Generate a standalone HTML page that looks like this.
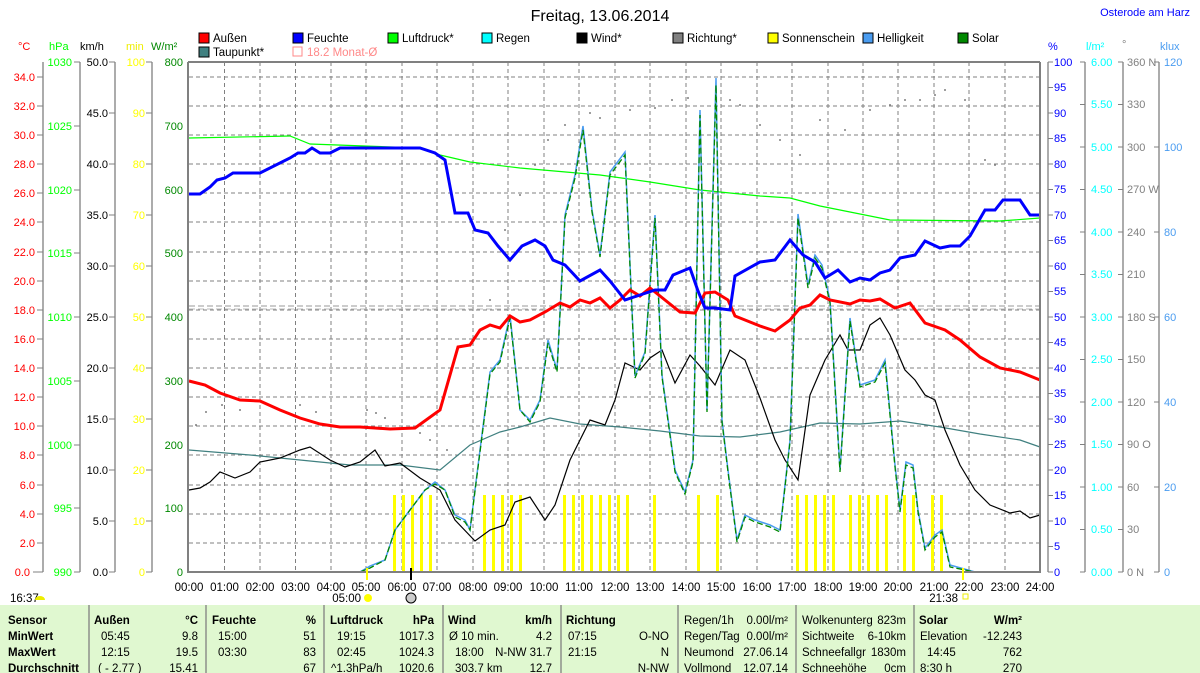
<!DOCTYPE html>
<html><head><meta charset="utf-8"><style>
body{margin:0;background:#fff;}
svg{display:block;font-family:"Liberation Sans",sans-serif;font-size:11px;}
</style></head><body>
<svg width="1200" height="673" viewBox="0 0 1200 673" xmlns="http://www.w3.org/2000/svg">
<rect width="1200" height="673" fill="#fff"/>
<text x="600" y="21" font-size="16" text-anchor="middle">Freitag, 13.06.2014</text>
<text x="1190" y="16" font-size="11" fill="#00f" text-anchor="end">Osterode am Harz</text>
<g font-size="11.5">
<rect x="199" y="33" width="10" height="10" fill="#f00" stroke="#000"/><text x="213" y="42">Außen</text>
<rect x="293" y="33" width="10" height="10" fill="#00f" stroke="#000"/><text x="307" y="42">Feuchte</text>
<rect x="388" y="33" width="10" height="10" fill="#0f0" stroke="#000"/><text x="402" y="42">Luftdruck*</text>
<rect x="482" y="33" width="10" height="10" fill="#0ff" stroke="#000"/><text x="496" y="42">Regen</text>
<rect x="577" y="33" width="10" height="10" fill="#000" stroke="#000"/><text x="591" y="42">Wind*</text>
<rect x="673" y="33" width="10" height="10" fill="#808080" stroke="#000"/><text x="687" y="42">Richtung*</text>
<rect x="768" y="33" width="10" height="10" fill="#ff0" stroke="#000"/><text x="782" y="42">Sonnenschein</text>
<rect x="863" y="33" width="10" height="10" fill="#4a9cf0" stroke="#000"/><text x="877" y="42">Helligkeit</text>
<rect x="958" y="33" width="10" height="10" fill="#080" stroke="#000"/><text x="972" y="42">Solar</text>
<rect x="199" y="47" width="10" height="10" fill="#408080" stroke="#000"/><text x="213" y="56">Taupunkt*</text>
<rect x="293" y="47" width="9" height="9" fill="none" stroke="#f88"/><text x="307" y="56" fill="#f88">18.2 Monat-Ø</text>
</g>
<g>
<text x="18" y="50" fill="#f00">°C</text>
<text x="49" y="50" fill="#0f0">hPa</text>
<text x="80" y="50">km/h</text>
<text x="126" y="50" fill="#ee0">min</text>
<text x="151" y="50" fill="#080">W/m²</text>
<text x="1048" y="50" fill="#00f">%</text>
<text x="1086" y="50" fill="#0ff">l/m²</text>
<text x="1122" y="48" fill="#808080">°</text>
<text x="1160" y="50" fill="#4a9cf0">klux</text>
</g>
<g stroke="#808080" stroke-dasharray="4,3" stroke-width="1">
<line x1="189" y1="77" x2="1040" y2="77"/><line x1="189" y1="106" x2="1040" y2="106"/><line x1="189" y1="135" x2="1040" y2="135"/><line x1="189" y1="164" x2="1040" y2="164"/><line x1="189" y1="193" x2="1040" y2="193"/><line x1="189" y1="222" x2="1040" y2="222"/><line x1="189" y1="252" x2="1040" y2="252"/><line x1="189" y1="281" x2="1040" y2="281"/><line x1="189" y1="310" x2="1040" y2="310"/><line x1="189" y1="339" x2="1040" y2="339"/><line x1="189" y1="368" x2="1040" y2="368"/><line x1="189" y1="397" x2="1040" y2="397"/><line x1="189" y1="426" x2="1040" y2="426"/><line x1="189" y1="455" x2="1040" y2="455"/><line x1="189" y1="485" x2="1040" y2="485"/><line x1="189" y1="514" x2="1040" y2="514"/><line x1="189" y1="543" x2="1040" y2="543"/>
<line x1="224.5" y1="62" x2="224.5" y2="572"/><line x1="260" y1="62" x2="260" y2="572"/><line x1="295.5" y1="62" x2="295.5" y2="572"/><line x1="331" y1="62" x2="331" y2="572"/><line x1="366" y1="62" x2="366" y2="572"/><line x1="402" y1="62" x2="402" y2="572"/><line x1="437" y1="62" x2="437" y2="572"/><line x1="473" y1="62" x2="473" y2="572"/><line x1="508" y1="62" x2="508" y2="572"/><line x1="544" y1="62" x2="544" y2="572"/><line x1="579" y1="62" x2="579" y2="572"/><line x1="615" y1="62" x2="615" y2="572"/><line x1="650" y1="62" x2="650" y2="572"/><line x1="686" y1="62" x2="686" y2="572"/><line x1="721" y1="62" x2="721" y2="572"/><line x1="757" y1="62" x2="757" y2="572"/><line x1="792" y1="62" x2="792" y2="572"/><line x1="828" y1="62" x2="828" y2="572"/><line x1="863" y1="62" x2="863" y2="572"/><line x1="898" y1="62" x2="898" y2="572"/><line x1="934" y1="62" x2="934" y2="572"/><line x1="969" y1="62" x2="969" y2="572"/><line x1="1005" y1="62" x2="1005" y2="572"/>
</g>
<line x1="189" y1="306" x2="1040" y2="306" stroke="#999" stroke-dasharray="6,3"/>
<line x1="189" y1="309" x2="1040" y2="309" stroke="#bbb" stroke-dasharray="6,3"/>
<g fill="#ff0">
<rect x="393" y="495" width="3" height="77"/><rect x="402" y="495" width="3" height="77"/><rect x="411" y="495" width="3" height="77"/><rect x="420" y="495" width="3" height="77"/><rect x="429" y="495" width="3" height="77"/>
<rect x="483" y="495" width="3" height="77"/><rect x="492" y="495" width="3" height="77"/><rect x="501" y="495" width="3" height="77"/><rect x="510" y="495" width="3" height="77"/><rect x="519" y="495" width="3" height="77"/>
<rect x="563" y="495" width="3" height="77"/><rect x="572" y="495" width="3" height="77"/><rect x="581" y="495" width="3" height="77"/><rect x="590" y="495" width="3" height="77"/><rect x="599" y="495" width="3" height="77"/><rect x="608" y="495" width="3" height="77"/><rect x="617" y="495" width="3" height="77"/><rect x="626" y="495" width="3" height="77"/>
<rect x="653" y="495" width="3" height="77"/><rect x="697" y="495" width="3" height="77"/><rect x="716" y="495" width="3" height="77"/>
<rect x="796" y="495" width="3" height="77"/><rect x="805" y="495" width="3" height="77"/><rect x="814" y="495" width="3" height="77"/><rect x="823" y="495" width="3" height="77"/><rect x="832" y="495" width="3" height="77"/>
<rect x="849" y="495" width="3" height="77"/><rect x="858" y="495" width="3" height="77"/><rect x="867" y="495" width="3" height="77"/><rect x="876" y="495" width="3" height="77"/><rect x="885" y="495" width="3" height="77"/>
<rect x="903" y="495" width="3" height="77"/><rect x="912" y="495" width="3" height="77"/><rect x="931" y="495" width="3" height="77"/><rect x="940" y="495" width="3" height="77"/>
</g>
<g fill="#808080">
<circle cx="196" cy="425" r="1"/><circle cx="206" cy="412" r="1"/><circle cx="222" cy="405" r="1"/><circle cx="240" cy="410" r="1"/><circle cx="300" cy="405" r="1"/><circle cx="316" cy="412" r="1"/><circle cx="367" cy="410" r="1"/><circle cx="376" cy="413" r="1"/><circle cx="385" cy="418" r="1"/><circle cx="420" cy="433" r="1"/><circle cx="430" cy="440" r="1"/><circle cx="447" cy="450" r="1"/>
<circle cx="490" cy="300" r="1"/><circle cx="505" cy="230" r="1"/><circle cx="520" cy="195" r="1"/><circle cx="535" cy="165" r="1"/><circle cx="548" cy="140" r="1"/><circle cx="565" cy="125" r="1"/><circle cx="590" cy="113" r="1"/><circle cx="600" cy="118" r="1"/><circle cx="630" cy="110" r="1"/><circle cx="655" cy="108" r="1"/><circle cx="672" cy="100" r="1"/><circle cx="688" cy="98" r="1"/><circle cx="730" cy="100" r="1"/><circle cx="740" cy="105" r="1"/><circle cx="760" cy="125" r="1"/><circle cx="780" cy="140" r="1"/><circle cx="800" cy="155" r="1"/><circle cx="820" cy="120" r="1"/><circle cx="845" cy="130" r="1"/><circle cx="870" cy="110" r="1"/><circle cx="890" cy="105" r="1"/><circle cx="905" cy="100" r="1"/><circle cx="920" cy="100" r="1"/><circle cx="935" cy="95" r="1"/><circle cx="945" cy="90" r="1"/><circle cx="965" cy="100" r="1"/><circle cx="985" cy="160" r="1"/><circle cx="995" cy="165" r="1"/>
</g>
<polyline fill="none" stroke="#408080" stroke-width="1.2" points="189,450 250,455 300,460 350,465 400,465 440,470 470,445 500,432 520,427 550,418 580,424 620,427 660,431 700,436 740,437 780,432 820,423 860,424 900,421 940,427 980,434 1020,440 1040,447"/>
<polyline fill="none" stroke="#0f0" stroke-width="1.2" points="189,138 290,136 310,144 420,148 440,155 470,162 520,168 600,175 650,182 700,190 760,196 790,198 820,206 850,212 890,220 1000,221 1040,218"/>
<polyline fill="none" stroke="#000" stroke-width="1.2" points="189,490 200,488 210,482 220,472 235,478 250,472 260,462 280,458 300,450 310,447 330,460 345,467 360,462 375,450 385,466 400,463 420,478 440,490 455,520 475,541 490,530 505,525 515,502 530,497 545,520 555,505 570,460 590,420 605,425 615,400 625,363 640,370 650,358 662,350 675,383 690,355 700,366 715,385 730,350 745,360 760,398 775,440 785,460 798,480 810,395 825,360 840,335 848,350 860,350 870,325 880,318 890,335 905,370 915,380 925,395 935,400 945,430 960,465 975,490 990,505 1010,513 1020,511 1030,518 1040,515"/>
<polyline fill="none" stroke="#4a9cf0" stroke-width="1.5" points="189,572 360,572 370,566 385,560 395,530 410,510 425,490 435,482 445,490 455,515 465,520 470,530 480,450 490,372 500,360 510,315 520,410 530,420 540,400 548,340 557,370 565,215 575,175 583,126 592,210 600,255 610,172 625,152 635,376 645,352 655,215 662,375 675,470 685,492 693,460 700,110 707,410 716,78 722,420 728,470 737,540 745,515 755,520 770,525 780,530 790,440 798,214 808,285 815,255 822,265 830,300 840,470 850,318 860,385 875,380 885,360 895,465 900,510 906,462 913,465 918,510 925,548 935,535 942,530 950,565 975,572"/>
<polyline fill="none" stroke="#080" stroke-width="1.3" stroke-dasharray="6,3" points="189,572 360,572 370,568 385,560 395,530 410,510 425,490 435,484 445,490 455,517 465,522 470,530 480,452 490,374 500,362 510,318 520,410 530,422 540,402 548,343 557,372 565,218 575,178 583,130 592,212 600,257 610,175 625,155 635,378 645,354 655,218 662,377 675,472 685,494 693,462 700,115 707,412 716,85 722,422 728,472 737,542 745,517 755,522 770,527 780,532 790,442 798,218 808,288 815,258 822,268 830,303 840,472 850,321 860,387 875,382 885,363 895,467 900,512 906,465 913,468 918,512 925,550 935,537 942,532 950,567 975,572"/>
<polyline fill="none" stroke="#f00" stroke-width="3" points="189,381 205,385 220,393 240,400 260,401 280,410 300,418 320,424 340,427 360,427 390,429 415,428 440,410 458,347 470,345 480,330 490,325 500,328 510,316 520,322 530,320 545,312 560,303 570,307 580,300 590,303 600,298 610,308 620,300 630,290 640,296 650,288 665,300 680,312 695,313 705,293 715,292 728,300 735,316 760,326 775,331 790,320 800,308 810,305 820,295 830,300 850,304 860,300 870,301 880,299 895,308 910,303 925,323 945,330 960,340 980,357 1000,368 1020,372 1040,380"/>
<polyline fill="none" stroke="#00f" stroke-width="3" points="189,194 200,194 210,187 217,180 225,178 233,173 260,173 290,158 298,153 305,153 312,148 320,153 330,153 340,148 420,148 435,153 445,160 455,213 468,213 475,230 488,233 498,246 510,260 522,246 535,240 545,246 553,260 565,265 580,281 600,270 610,281 625,300 640,295 655,290 665,290 673,275 690,268 698,291 705,308 715,308 730,310 735,276 760,262 775,260 790,240 803,255 815,262 825,278 838,270 850,282 860,278 870,280 880,273 890,270 900,258 915,255 925,241 940,248 950,246 960,246 970,236 985,210 995,210 1003,200 1020,200 1030,215 1040,215"/>
<line x1="188" y1="62" x2="1040" y2="62" stroke="#808080" stroke-width="2"/>
<line x1="188" y1="62" x2="188" y2="573" stroke="#808080" stroke-width="2"/>
<line x1="1040" y1="62" x2="1040" y2="573" stroke="#808080" stroke-width="2"/>
<line x1="188" y1="572" x2="1040" y2="572" stroke="#808080" stroke-width="2"/>
<g stroke="#808080" stroke-width="1.3">
<line x1="43" y1="62" x2="43" y2="572"/><line x1="80" y1="62" x2="80" y2="572"/><line x1="115" y1="62" x2="115" y2="572"/><line x1="152" y1="62" x2="152" y2="572"/>
<line x1="1048" y1="62" x2="1048" y2="572"/><line x1="1085" y1="62" x2="1085" y2="572"/><line x1="1123" y1="62" x2="1123" y2="572"/><line x1="1159" y1="62" x2="1159" y2="572"/>
</g>
<g text-anchor="end">
<g fill="#f00"><text x="35" y="81">34.0</text><text x="35" y="110">32.0</text><text x="35" y="139">30.0</text><text x="35" y="168">28.0</text><text x="35" y="197">26.0</text><text x="35" y="226">24.0</text><text x="35" y="256">22.0</text><text x="35" y="285">20.0</text><text x="35" y="314">18.0</text><text x="35" y="343">16.0</text><text x="35" y="372">14.0</text><text x="35" y="401">12.0</text><text x="35" y="430">10.0</text><text x="35" y="459">8.0</text><text x="35" y="489">6.0</text><text x="35" y="518">4.0</text><text x="35" y="547">2.0</text><text x="30" y="576">0.0</text></g>
<g fill="#0f0"><text x="72" y="66">1030</text><text x="72" y="130">1025</text><text x="72" y="194">1020</text><text x="72" y="257">1015</text><text x="72" y="321">1010</text><text x="72" y="385">1005</text><text x="72" y="449">1000</text><text x="72" y="512">995</text><text x="72" y="576">990</text></g>
<g fill="#000"><text x="108" y="66">50.0</text><text x="108" y="117">45.0</text><text x="108" y="168">40.0</text><text x="108" y="219">35.0</text><text x="108" y="270">30.0</text><text x="108" y="321">25.0</text><text x="108" y="372">20.0</text><text x="108" y="423">15.0</text><text x="108" y="474">10.0</text><text x="108" y="525">5.0</text><text x="108" y="576">0.0</text></g>
<g fill="#ff0"><text x="145" y="66">100</text><text x="145" y="117">90</text><text x="145" y="168">80</text><text x="145" y="219">70</text><text x="145" y="270">60</text><text x="145" y="321">50</text><text x="145" y="372">40</text><text x="145" y="423">30</text><text x="145" y="474">20</text><text x="145" y="525">10</text><text x="145" y="576">0</text></g>
<g fill="#080"><text x="183" y="66">800</text><text x="183" y="130">700</text><text x="183" y="194">600</text><text x="183" y="257">500</text><text x="183" y="321">400</text><text x="183" y="385">300</text><text x="183" y="449">200</text><text x="183" y="512">100</text><text x="183" y="576">0</text></g>
</g>
<g stroke="#808080">
<path d="M37 77h6M37 106h6M37 135h6M37 164h6M37 193h6M37 222h6M37 252h6M37 281h6M37 310h6M37 339h6M37 368h6M37 397h6M37 426h6M37 455h6M37 485h6M37 514h6M37 543h6M33 572h10"/>
<path d="M74 62h6M74 126h6M74 190h6M74 253h6M74 317h6M74 381h6M74 445h6M74 508h6M74 572h6"/>
<path d="M109 62h6M109 113h6M109 164h6M109 215h6M109 266h6M109 317h6M109 368h6M109 419h6M109 470h6M109 521h6M109 572h6"/>
<path d="M146 62h6M146 113h6M146 164h6M146 215h6M146 266h6M146 317h6M146 368h6M146 419h6M146 470h6M146 521h6M146 572h6"/>
<path d="M1048 62h5M1048 87.5h5M1048 113h5M1048 138.5h5M1048 164h5M1048 189.5h5M1048 215h5M1048 240.5h5M1048 266h5M1048 291.5h5M1048 317h5M1048 342.5h5M1048 368h5M1048 393.5h5M1048 419h5M1048 444.5h5M1048 470h5M1048 495.5h5M1048 521h5M1048 546.5h5M1048 572h5"/>
<path d="M1080 62h5M1080 104.5h5M1080 147h5M1080 189.5h5M1080 232h5M1080 274.5h5M1080 317h5M1080 359.5h5M1080 402h5M1080 444.5h5M1080 487h5M1080 529.5h5M1080 572h5"/>
<path d="M1118 62h5M1118 104.5h5M1118 147h5M1118 189.5h5M1118 232h5M1118 274.5h5M1118 317h5M1118 359.5h5M1118 402h5M1118 444.5h5M1118 487h5M1118 529.5h5M1118 572h5"/>
<path d="M1154 62h5M1154 147h5M1154 232h5M1154 317h5M1154 402h5M1154 487h5M1154 572h5"/>
</g>
<g>
<g fill="#00f"><text x="1054" y="66">100</text><text x="1054" y="91">95</text><text x="1054" y="117">90</text><text x="1054" y="142">85</text><text x="1054" y="168">80</text><text x="1054" y="193">75</text><text x="1054" y="219">70</text><text x="1054" y="244">65</text><text x="1054" y="270">60</text><text x="1054" y="295">55</text><text x="1054" y="321">50</text><text x="1054" y="346">45</text><text x="1054" y="372">40</text><text x="1054" y="397">35</text><text x="1054" y="423">30</text><text x="1054" y="448">25</text><text x="1054" y="474">20</text><text x="1054" y="499">15</text><text x="1054" y="525">10</text><text x="1054" y="550">5</text><text x="1054" y="576">0</text></g>
<g fill="#0ff"><text x="1091" y="66">6.00</text><text x="1091" y="108">5.50</text><text x="1091" y="151">5.00</text><text x="1091" y="193">4.50</text><text x="1091" y="236">4.00</text><text x="1091" y="278">3.50</text><text x="1091" y="321">3.00</text><text x="1091" y="363">2.50</text><text x="1091" y="406">2.00</text><text x="1091" y="448">1.50</text><text x="1091" y="491">1.00</text><text x="1091" y="533">0.50</text><text x="1091" y="576">0.00</text></g>
<g fill="#808080"><text x="1127" y="66">360 N</text><text x="1127" y="108">330</text><text x="1127" y="151">300</text><text x="1127" y="193">270 W</text><text x="1127" y="236">240</text><text x="1127" y="278">210</text><text x="1127" y="321">180 S</text><text x="1127" y="363">150</text><text x="1127" y="406">120</text><text x="1127" y="448">90  O</text><text x="1127" y="491">60</text><text x="1127" y="533">30</text><text x="1127" y="576">0   N</text></g>
<g fill="#4a9cf0"><text x="1164" y="66">120</text><text x="1164" y="151">100</text><text x="1164" y="236">80</text><text x="1164" y="321">60</text><text x="1164" y="406">40</text><text x="1164" y="491">20</text><text x="1164" y="576">0</text></g>
</g>
<g font-size="11.5" text-anchor="middle">
<text x="189" y="591">00:00</text><text x="224.5" y="591">01:00</text><text x="260" y="591">02:00</text><text x="295.5" y="591">03:00</text><text x="331" y="591">04:00</text><text x="366" y="591">05:00</text><text x="402" y="591">06:00</text><text x="437" y="591">07:00</text><text x="473" y="591">08:00</text><text x="508" y="591">09:00</text><text x="544" y="591">10:00</text><text x="579" y="591">11:00</text><text x="615" y="591">12:00</text><text x="650" y="591">13:00</text><text x="686" y="591">14:00</text><text x="721" y="591">15:00</text><text x="757" y="591">16:00</text><text x="792" y="591">17:00</text><text x="828" y="591">18:00</text><text x="863" y="591">19:00</text><text x="898" y="591">20:00</text><text x="934" y="591">21:00</text><text x="969" y="591">22:00</text><text x="1005" y="591">23:00</text><text x="1040" y="591">24:00</text>
</g>
<line x1="411" y1="568" x2="411" y2="580" stroke="#000" stroke-width="2"/>
<line x1="367" y1="568" x2="367" y2="580" stroke="#ff0" stroke-width="2"/>
<line x1="963" y1="568" x2="963" y2="580" stroke="#ff0" stroke-width="2"/>
<text x="361" y="602" font-size="11.5" text-anchor="end">05:00</text><circle cx="368" cy="598" r="4" fill="#ff0"/>
<circle cx="411" cy="598" r="5" fill="#ccc" stroke="#000"/>
<text x="958" y="602" font-size="11.5" text-anchor="end">21:38</text><rect x="963" y="594" width="5" height="5" fill="none" stroke="#ee0"/>
<text x="10" y="602" font-size="11.5">16:37</text><path d="M35 600a5 4 0 0 1 10 0z" fill="#ee0"/>
<rect x="0" y="605" width="1200" height="68" fill="#e0f8d0"/>
<g stroke="#808080" stroke-width="1.3"><line x1="89" y1="605" x2="89" y2="673"/><line x1="206" y1="605" x2="206" y2="673"/><line x1="324" y1="605" x2="324" y2="673"/><line x1="443" y1="605" x2="443" y2="673"/><line x1="561" y1="605" x2="561" y2="673"/><line x1="678" y1="605" x2="678" y2="673"/><line x1="796" y1="605" x2="796" y2="673"/><line x1="914" y1="605" x2="914" y2="673"/></g>
<g font-size="11.5">
<g font-weight="bold"><text x="8" y="624">Sensor</text><text x="8" y="640">MinWert</text><text x="8" y="656">MaxWert</text><text x="8" y="672">Durchschnitt</text>
<text x="94" y="624">Außen</text><text x="212" y="624">Feuchte</text><text x="330" y="624">Luftdruck</text><text x="448" y="624">Wind</text><text x="566" y="624">Richtung</text><text x="919" y="624">Solar</text></g>
<g text-anchor="end" font-weight="bold"><text x="198" y="624">°C</text><text x="316" y="624">%</text><text x="434" y="624">hPa</text><text x="552" y="624">km/h</text><text x="1022" y="624">W/m²</text></g>
<text x="101" y="640">05:45</text><text x="101" y="656">12:15</text><text x="98" y="672">( - 2.77 )</text>
<g text-anchor="end"><text x="198" y="640">9.8</text><text x="198" y="656">19.5</text><text x="198" y="672">15.41</text>
<text x="316" y="640">51</text><text x="316" y="656">83</text><text x="316" y="672">67</text>
<text x="434" y="640">1017.3</text><text x="434" y="656">1024.3</text><text x="434" y="672">1020.6</text>
<text x="552" y="640">4.2</text><text x="552" y="656">N-NW 31.7</text><text x="552" y="672">12.7</text>
<text x="669" y="640">O-NO</text><text x="669" y="656">N</text><text x="669" y="672">N-NW</text>
<text x="788" y="624">0.00l/m²</text><text x="788" y="640">0.00l/m²</text><text x="788" y="656">27.06.14</text><text x="788" y="672">12.07.14</text>
<text x="906" y="624">823m</text><text x="906" y="640">6-10km</text><text x="906" y="656">1830m</text><text x="906" y="672">0cm</text>
<text x="1022" y="640">-12.243</text><text x="1022" y="656">762</text><text x="1022" y="672">270</text></g>
<text x="218" y="640">15:00</text><text x="218" y="656">03:30</text>
<text x="337" y="640">19:15</text><text x="337" y="656">02:45</text><text x="331" y="672">^1.3hPa/h</text>
<text x="449" y="640">Ø 10 min.</text><text x="455" y="656">18:00</text><text x="455" y="672">303.7 km</text>
<text x="568" y="640">07:15</text><text x="568" y="656">21:15</text>
<text x="684" y="624">Regen/1h</text><text x="684" y="640">Regen/Tag</text><text x="684" y="656">Neumond</text><text x="684" y="672">Vollmond</text>
<text x="802" y="624">Wolkenunterg</text><text x="802" y="640">Sichtweite</text><text x="802" y="656">Schneefallgr</text><text x="802" y="672">Schneehöhe</text>
<text x="920" y="640">Elevation</text><text x="927" y="656">14:45</text><text x="920" y="672">8:30 h</text>
</g>
</svg>
</body></html>
